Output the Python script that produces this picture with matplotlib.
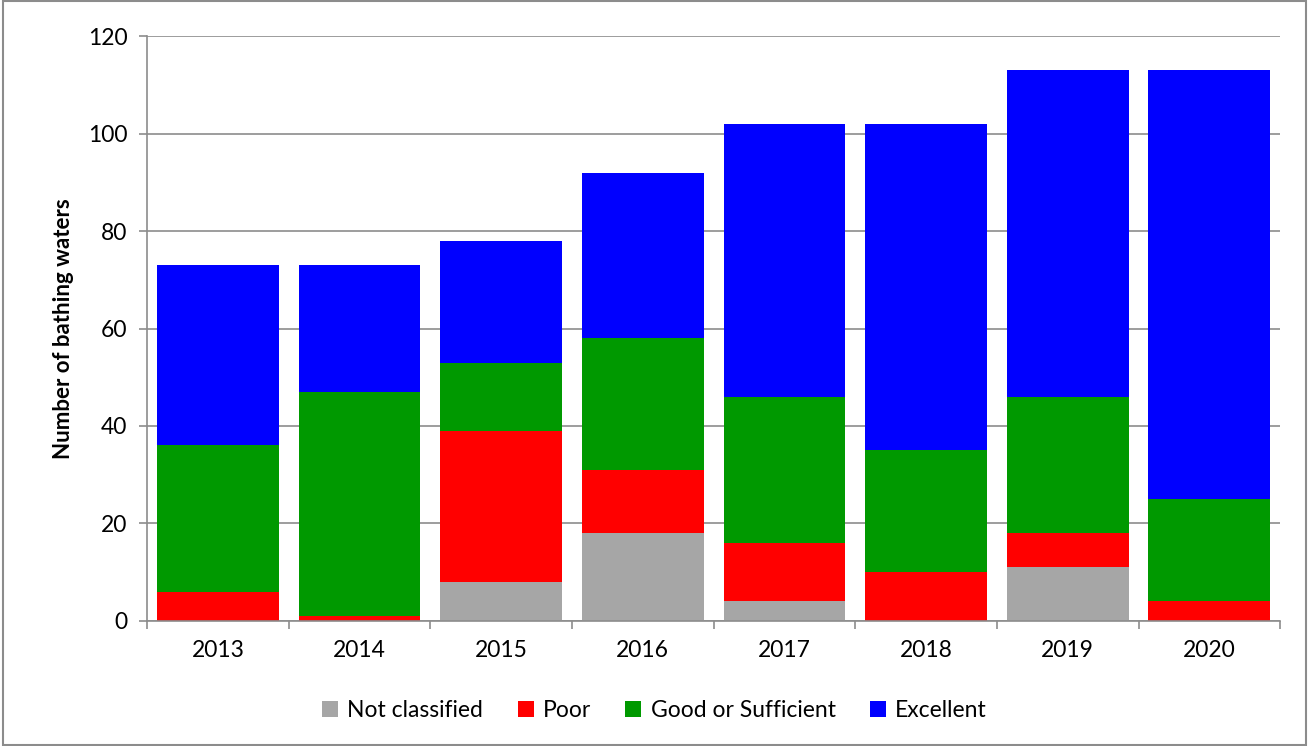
import matplotlib.pyplot as plt
import numpy as np

years = ['2013', '2014', '2015', '2016', '2017', '2018', '2019', '2020']
not_classified = [0, 0, 8, 18, 4, 0, 11, 0]
poor = [6, 1, 31, 13, 12, 10, 7, 4]
good = [30, 46, 14, 27, 30, 25, 28, 21]
excellent = [37, 26, 25, 34, 56, 67, 67, 88]

series = [('Not classified', not_classified, '#a6a6a6'),
          ('Poor', poor, '#ff0000'),
          ('Good or Sufficient', good, '#009900'),
          ('Excellent', excellent, '#0000ff')]

plt.rcParams['font.family'] = ['Lato', 'DejaVu Sans']

fig = plt.figure(figsize=(13.09, 7.46), dpi=100)
ax = fig.add_axes([0.1123, 0.1676, 0.8657, 0.7841])

x = np.arange(len(years))
bottom = np.zeros(len(years))
for name, vals, col in series:
    ax.bar(x, vals, width=0.86, bottom=bottom, color=col, label=name, zorder=2)
    bottom += np.array(vals)

ax.set_xlim(-0.5, len(years) - 0.5)
ax.set_ylim(0, 120)
ax.set_yticks(range(0, 121, 20))
ax.yaxis.grid(True, color='#8c8c8c', linewidth=1.2, zorder=0)
ax.set_xticks(x)
ax.set_xticklabels(years)
ax.set_xticks(np.arange(-0.5, len(years)), minor=True)
ax.tick_params(axis='x', which='major', length=0, pad=14, labelsize=16.5)
ax.tick_params(axis='x', which='minor', length=6, color='#8c8c8c', width=1.2)
ax.tick_params(axis='y', length=6, color='#8c8c8c', width=1.2, labelsize=16.5, pad=8)
for s in ['top', 'right']:
    ax.spines[s].set_visible(False)
for s in ['left', 'bottom']:
    ax.spines[s].set_color('#8c8c8c')
    ax.spines[s].set_linewidth(1.2)
ax.set_ylabel('Number of bathing waters', fontsize=16, fontweight='bold', labelpad=10)

fig.legend(loc='center', bbox_to_anchor=(0.5, 0.047), ncol=4, frameon=False,
           fontsize=16.5, handlelength=0.7, handleheight=0.7, handletextpad=0.4,
           columnspacing=1.5)

border = plt.Rectangle((0.002, 0.002), 0.996, 0.996, transform=fig.transFigure,
                       fill=False, edgecolor='#8c8c8c', linewidth=1.5)
fig.patches.append(border)

fig.savefig('out.png', dpi=100)
